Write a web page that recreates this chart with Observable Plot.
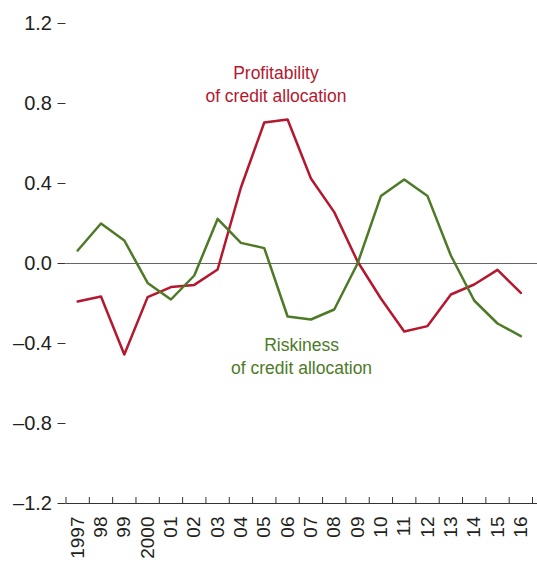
<!DOCTYPE html>
<html>
<head>
<meta charset="utf-8">
<script src="https://cdn.jsdelivr.net/npm/d3@7"></script>
<script src="https://cdn.jsdelivr.net/npm/@observablehq/plot@0.6"></script>
<style>
  html, body { margin: 0; padding: 0; background: #fff; }
  #chart svg { display: block; }
</style>
</head>
<body>
<div id="chart"></div>
<script>
const years = [1997,1998,1999,2000,2001,2002,2003,2004,2005,2006,2007,2008,2009,2010,2011,2012,2013,2014,2015,2016];
const yearLabels = ["1997","98","99","2000","01","02","03","04","05","06","07","08","09","10","11","12","13","14","15","16"];
const profitability = [-0.19,-0.165,-0.455,-0.168,-0.118,-0.107,-0.03,0.38,0.705,0.72,0.425,0.257,0.01,-0.175,-0.34,-0.313,-0.155,-0.105,-0.032,-0.147];
const riskiness = [0.065,0.2,0.115,-0.097,-0.18,-0.06,0.223,0.103,0.077,-0.265,-0.28,-0.23,0.0,0.337,0.42,0.337,0.04,-0.185,-0.30,-0.363];
const yTicks = [-1.2,-0.8,-0.4,0,0.4,0.8,1.2];
const seriesNames = ["Profitability\nof credit allocation", "Riskiness\nof credit allocation"];
const colors = ["#B5172F", "#4E7A27"];
const labelPos = [{year: 2005.5, value: 0.90}, {year: 2006.6, value: -0.46}];

const rows = [];
years.forEach((yr, i) => {
  rows.push({year: yr, value: profitability[i], series: seriesNames[0]});
  rows.push({year: yr, value: riskiness[i], series: seriesNames[1]});
});
const boundaries = [...years.map(y => y - 0.5), years[years.length - 1] + 0.5];
const yMin = yTicks[0];
const font = "'Liberation Sans', Arial, sans-serif";

const chart = Plot.plot({
  width: 537,
  height: 563,
  marginLeft: 65.5,
  marginRight: 5,
  marginTop: 23,
  marginBottom: 60,
  style: {fontFamily: font, fontSize: "19px", color: "#231f20", background: "#fff"},
  x: {domain: [boundaries[0], boundaries[boundaries.length - 1]], label: null},
  y: {domain: [yTicks[0], yTicks[yTicks.length - 1]], label: null},
  color: {domain: seriesNames, range: colors},
  marks: [
    Plot.axisY({ticks: yTicks, tickSize: 8, tickPadding: 6, tickFormat: d => d.toFixed(1).replace("-", "\u2013"), fontSize: 20, stroke: "#333", label: null}),
    Plot.axisX({ticks: years, tickSize: 0, tickPadding: 13, tickRotate: -90, tickFormat: d => yearLabels[years.indexOf(d)], fontSize: 19, label: null}),
    Plot.ruleY([0], {stroke: "#666", strokeWidth: 1, insetRight: -5}),
    Plot.ruleY([yMin], {stroke: "#333", strokeWidth: 1, insetRight: -5}),
    Plot.ruleX(boundaries, {x: d => d, y1: yMin, y2: yMin + 0.03, stroke: "#333", strokeWidth: 1}),
    Plot.line(rows, {x: "year", y: "value", z: "series", stroke: "series", strokeWidth: 2.5}),
    Plot.text(seriesNames, {x: (d, i) => labelPos[i].year, y: (d, i) => labelPos[i].value, text: d => d, fill: d => d, fontSize: 17.5, lineHeight: 1.3, textAnchor: "middle"})
  ]
});
document.getElementById("chart").appendChild(chart);
</script>
</body>
</html>
